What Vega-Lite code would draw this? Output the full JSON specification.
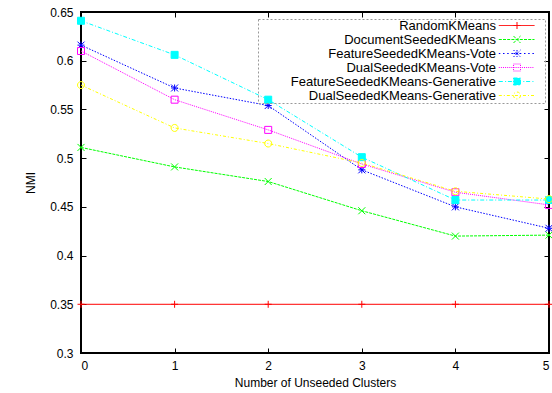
{
  "$schema": "https://vega.github.io/schema/vega-lite/v6.json",
  "width": 468,
  "height": 341,
  "autosize": {"type": "none"},
  "padding": {"left": 81, "top": 12, "right": 3, "bottom": 40},
  "background": "white",
  "config": {
    "view": {"stroke": "black", "strokeWidth": 2},
    "axis": {
      "domain": false, "grid": false, "tickColor": "black", "tickWidth": 1, "tickSize": -5,
      "labelFont": "Liberation Sans", "labelFontSize": 12, "labelColor": "black",
      "titleFont": "Liberation Sans", "titleFontSize": 12, "titleFontWeight": "normal", "titleColor": "black"
    },
    "legend": {
      "orient": "none", "legendX": 177, "legendY": 7,
      "labelAlign": "right", "labelOffset": -27.5, "symbolOffset": 252.5, "labelLimit": 0,
      "labelFont": "Liberation Sans", "labelFontSize": 13, "labelColor": "black",
      "symbolSize": 49, "symbolStrokeWidth": 1, "rowPadding": -4.1,
      "strokeColor": "#999999", "strokeDash": [2, 2], "padding": 0
    }
  },
  "data": {"values": [
    {"series": "RandomKMeans", "x": 0, "nmi": 0.35},
    {"series": "RandomKMeans", "x": 1, "nmi": 0.35},
    {"series": "RandomKMeans", "x": 2, "nmi": 0.35},
    {"series": "RandomKMeans", "x": 3, "nmi": 0.35},
    {"series": "RandomKMeans", "x": 4, "nmi": 0.35},
    {"series": "RandomKMeans", "x": 5, "nmi": 0.35},
    {"series": "DocumentSeededKMeans", "x": 0, "nmi": 0.511},
    {"series": "DocumentSeededKMeans", "x": 1, "nmi": 0.491},
    {"series": "DocumentSeededKMeans", "x": 2, "nmi": 0.476},
    {"series": "DocumentSeededKMeans", "x": 3, "nmi": 0.446},
    {"series": "DocumentSeededKMeans", "x": 4, "nmi": 0.42},
    {"series": "DocumentSeededKMeans", "x": 5, "nmi": 0.421},
    {"series": "FeatureSeededKMeans-Vote", "x": 0, "nmi": 0.616},
    {"series": "FeatureSeededKMeans-Vote", "x": 1, "nmi": 0.572},
    {"series": "FeatureSeededKMeans-Vote", "x": 2, "nmi": 0.554},
    {"series": "FeatureSeededKMeans-Vote", "x": 3, "nmi": 0.488},
    {"series": "FeatureSeededKMeans-Vote", "x": 4, "nmi": 0.45},
    {"series": "FeatureSeededKMeans-Vote", "x": 5, "nmi": 0.428},
    {"series": "DualSeededKMeans-Vote", "x": 0, "nmi": 0.61},
    {"series": "DualSeededKMeans-Vote", "x": 1, "nmi": 0.56},
    {"series": "DualSeededKMeans-Vote", "x": 2, "nmi": 0.529},
    {"series": "DualSeededKMeans-Vote", "x": 3, "nmi": 0.494},
    {"series": "DualSeededKMeans-Vote", "x": 4, "nmi": 0.465},
    {"series": "DualSeededKMeans-Vote", "x": 5, "nmi": 0.452},
    {"series": "FeatureSeededKMeans-Generative", "x": 0, "nmi": 0.641},
    {"series": "FeatureSeededKMeans-Generative", "x": 1, "nmi": 0.606},
    {"series": "FeatureSeededKMeans-Generative", "x": 2, "nmi": 0.56},
    {"series": "FeatureSeededKMeans-Generative", "x": 3, "nmi": 0.501},
    {"series": "FeatureSeededKMeans-Generative", "x": 4, "nmi": 0.457},
    {"series": "FeatureSeededKMeans-Generative", "x": 5, "nmi": 0.457},
    {"series": "DualSeededKMeans-Generative", "x": 0, "nmi": 0.575},
    {"series": "DualSeededKMeans-Generative", "x": 1, "nmi": 0.531},
    {"series": "DualSeededKMeans-Generative", "x": 2, "nmi": 0.515},
    {"series": "DualSeededKMeans-Generative", "x": 3, "nmi": 0.495},
    {"series": "DualSeededKMeans-Generative", "x": 4, "nmi": 0.466},
    {"series": "DualSeededKMeans-Generative", "x": 5, "nmi": 0.458}
  ]},
  "layer": [
    {
      "mark": {"type": "line", "strokeWidth": 1},
      "encoding": {
        "x": {"field": "x", "type": "quantitative", "scale": {"domain": [0, 5], "nice": false},
              "axis": {"orient": "bottom", "values": [0, 1, 2, 3, 4, 5], "format": "d", "labelPadding": 12, "title": "Number of Unseeded Clusters", "titlePadding": 6}},
        "y": {"field": "nmi", "type": "quantitative", "scale": {"domain": [0.3, 0.65], "nice": false, "zero": false},
              "axis": {"orient": "left", "values": [0.3, 0.35, 0.4, 0.45, 0.5, 0.55, 0.6, 0.65], "format": "~g", "labelPadding": 13, "title": "NMI", "titlePadding": 12}},
        "stroke": {"field": "series", "type": "nominal", "legend": {"title": null},
          "scale": {"domain": ["RandomKMeans", "DocumentSeededKMeans", "FeatureSeededKMeans-Vote", "DualSeededKMeans-Vote", "FeatureSeededKMeans-Generative", "DualSeededKMeans-Generative"],
                    "range": ["#ff0000", "#00ff00", "#0000ff", "#ff00ff", "#00ffff", "#ffff00"]}},
        "strokeDash": {"field": "series", "type": "nominal", "legend": null,
          "scale": {"domain": ["RandomKMeans", "DocumentSeededKMeans", "FeatureSeededKMeans-Vote", "DualSeededKMeans-Vote", "FeatureSeededKMeans-Generative", "DualSeededKMeans-Generative"],
                    "range": [[1, 0], [3, 1], [1.5, 1.5], [1, 1], [4, 2, 1, 2], [3, 2, 1, 2]]}}
      }
    },
    {
      "layer": [
        {
          "mark": {"type": "point", "filled": false, "size": 49, "strokeWidth": 1, "opacity": 1},
          "encoding": {
            "x": {"field": "x", "type": "quantitative", "axis": {"orient": "top", "values": [0, 1, 2, 3, 4, 5], "labels": false, "title": null}},
            "y": {"field": "nmi", "type": "quantitative", "axis": {"orient": "right", "values": [0.3, 0.35, 0.4, 0.45, 0.5, 0.55, 0.6, 0.65], "labels": false, "title": null}},
            "stroke": {"field": "series", "type": "nominal", "legend": {"title": null}},
            "shape": {"field": "series", "type": "nominal", "legend": null,
              "scale": {"domain": ["RandomKMeans", "DocumentSeededKMeans", "FeatureSeededKMeans-Vote", "DualSeededKMeans-Vote", "FeatureSeededKMeans-Generative", "DualSeededKMeans-Generative"],
                        "range": ["M-1,0H1M0,-1V1", "M-1,-1L1,1M-1,1L1,-1", "M-1,0H1M0,-1V1M-1,-1L1,1M-1,1L1,-1", "M-1,-1H1V1H-1Z", "M-1,-1H1V1H-1Z", "M1,0A1,1 0 1,1 -1,0A1,1 0 1,1 1,0Z"]}},
            "fill": {"field": "series", "type": "nominal", "legend": {"title": null},
              "scale": {"domain": ["RandomKMeans", "DocumentSeededKMeans", "FeatureSeededKMeans-Vote", "DualSeededKMeans-Vote", "FeatureSeededKMeans-Generative", "DualSeededKMeans-Generative"],
                        "range": ["transparent", "transparent", "transparent", "transparent", "#00ffff", "transparent"]}}
          }
        }
      ],
      "resolve": {"scale": {"shape": "independent"}, "legend": {"shape": "independent"}}
    },
    {
      "transform": [{"filter": "false"}],
      "mark": {"type": "point", "filled": false, "size": 49, "strokeWidth": 1, "opacity": 1},
      "encoding": {
        "stroke": {"field": "series", "type": "nominal", "legend": {"title": null}},
        "fill": {"field": "series", "type": "nominal", "legend": {"title": null}},
        "shape": {"field": "series", "type": "nominal", "legend": {"title": null},
          "scale": {"domain": ["RandomKMeans", "DocumentSeededKMeans", "FeatureSeededKMeans-Vote", "DualSeededKMeans-Vote", "FeatureSeededKMeans-Generative", "DualSeededKMeans-Generative"],
                    "range": [
                      "M-5.2,0H5M-1,0H1M0,-1V1M7.3,0L7.3,0",
                      "M-5.2,0H-4.3M-4,0H-3.1M-2.8,0H-1.9M-1.6,0H-0.7M-0.4,0H0.5M0.8,0H1.7M2,0H2.9M3.2,0H4.1M4.4,0H5M-1,-1L1,1M-1,1L1,-1M7.3,0L7.3,0",
                      "M-5.2,0H-4.6M-4,0H-3.4M-2.8,0H-2.2M-1.6,0H-1M-0.4,0H0.2M0.8,0H1.4M2,0H2.6M3.2,0H3.8M4.4,0H5M-1,0H1M0,-1V1M-1,-1L1,1M-1,1L1,-1M7.3,0L7.3,0",
                      "M-5.2,0H-4.9M-4.6,0H-4.3M-4,0H-3.7M-3.4,0H-3.1M-2.8,0H-2.5M-2.2,0H-1.9M-1.6,0H-1.3M-1,0H-0.7M-0.4,0H-0.1M0.2,0H0.5M0.8,0H1.1M1.4,0H1.7M2,0H2.3M2.6,0H2.9M3.2,0H3.5M3.8,0H4.1M4.4,0H4.7M-1,-1H1V1H-1ZM7.3,0L7.3,0",
                      "M-5.2,0H-4M-3.4,0H-3.1M-2.6,0H-1.4M-0.8,0H-0.5M0,0H1.2M1.8,0H2.1M2.6,0H3.8M4.4,0H4.7M-1,-1H1V1H-1ZM7.3,0L7.3,0",
                      "M-5.2,0H-4.34M-3.77,0H-3.47M-2.9,0H-2.04M-1.47,0H-1.17M-0.6,0H0.26M0.83,0H1.13M1.7,0H2.56M3.13,0H3.43M4,0H4.86M1,0A1,1 0 1,1 -1,0A1,1 0 1,1 1,0ZM7.3,0L7.3,0"
                    ]}
        }
      }
    }
  ],
  "resolve": {"axis": {"x": "independent", "y": "independent"}}
}
